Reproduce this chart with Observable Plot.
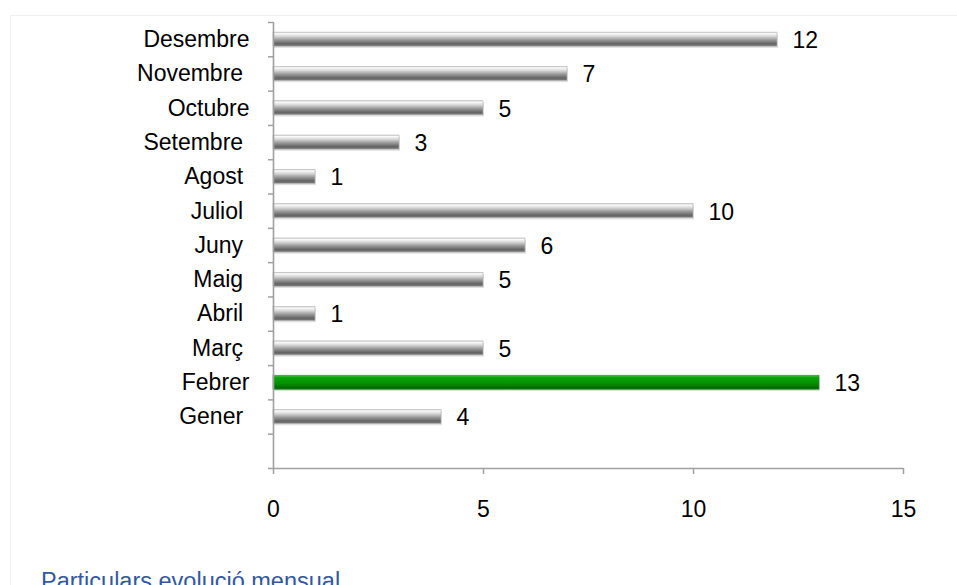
<!DOCTYPE html>
<html>
<head>
<meta charset="utf-8">
<script src="https://cdn.jsdelivr.net/npm/d3@7"></script>
<script src="https://cdn.jsdelivr.net/npm/@observablehq/plot@0.6"></script>
<style>
  html, body { margin: 0; padding: 0; background: #fff; overflow: hidden; }
  #wrap { position: relative; width: 957px; height: 585px; overflow: hidden; }
  #frame { position: absolute; left: 10px; top: 15px; right: -5px; bottom: -5px;
           border-left: 1px solid #efefef; border-top: 1px solid #efefef; pointer-events: none; }
  #cap { position: absolute; left: 41px; top: 568px; font-family: "Liberation Sans", Arial, sans-serif;
         font-size: 23.5px; line-height: 1.15; color: #3458a0; white-space: nowrap; }
</style>
</head>
<body>
<div id="wrap">
  <div id="frame"></div>
  <div id="chart"></div>
  <div id="cap">Particulars evolució mensual</div>
</div>
<script>
// Data (bottom to top)
const months = ["Gener\u00a0", "Febrer", "Març\u00a0", "Abril\u00a0", "Maig\u00a0", "Juny\u00a0",
                "Juliol\u00a0", "Agost\u00a0", "Setembre\u00a0", "Octubre", "Novembre\u00a0", "Desembre"];
const values = [4, 13, 5, 1, 5, 6, 10, 1, 3, 5, 7, 12];
const highlight = ["Febrer"];
const xTicks = [0, 5, 10, 15];

const data = months.map((m, i) => ({month: m, value: values[i], pos: i + 1.5, hi: highlight.includes(m)}));
const half = 0.205;

const defs = () => {
  const ns = "http://www.w3.org/2000/svg";
  const d = document.createElementNS(ns, "defs");
  d.innerHTML = `
    <linearGradient id="gGray" x1="0" y1="0" x2="0" y2="1">
      <stop offset="0" stop-color="#cfcfcf"/>
      <stop offset="0.1" stop-color="#fafafa"/>
      <stop offset="0.3" stop-color="#d6d6d6"/>
      <stop offset="0.55" stop-color="#9a9a9a"/>
      <stop offset="0.82" stop-color="#646464"/>
      <stop offset="1" stop-color="#7e7e7e"/>
    </linearGradient>
    <linearGradient id="gGreen" x1="0" y1="0" x2="0" y2="1">
      <stop offset="0" stop-color="#5cc25c"/>
      <stop offset="0.15" stop-color="#0ca60c"/>
      <stop offset="0.6" stop-color="#009000"/>
      <stop offset="0.9" stop-color="#006800"/>
      <stop offset="1" stop-color="#1a7a1a"/>
    </linearGradient>
    <filter id="blur" x="-5%" y="-50%" width="110%" height="200%"><feGaussianBlur stdDeviation="1.5"/></filter>`;
  return d;
};

const chart = Plot.plot({
  width: 957,
  height: 568,
  marginLeft: 273,
  marginRight: 54,
  marginTop: 22,
  marginBottom: 100,
  style: {fontFamily: "'Liberation Sans', Arial, sans-serif", fontSize: "23px", color: "#000", background: "transparent"},
  x: {domain: [0, 15], axis: null, label: null},
  y: {domain: [0, 13], axis: null, label: null},
  marks: [
    defs,
    // shadow
    Plot.rectX(data, {x1: 0, x2: "value", y1: d => d.pos - half - 0.05, y2: d => d.pos + half - 0.05,
      fill: "#000", fillOpacity: 0.12, dx: 1, style: {filter: "url(#blur)"}}),
    Plot.rectX(data, {x1: 0, x2: "value", y1: d => d.pos - half, y2: d => d.pos + half,
      fill: d => d.hi ? "url(#gGreen)" : "url(#gGray)"}),
    Plot.rectX(data, {x1: 0, x2: "value", y1: d => d.pos - half, y2: d => d.pos + half,
      fill: "none", stroke: d => d.hi ? "#2a8a2a" : "#b5b5b5", strokeWidth: 0.6}),
    Plot.text(data, {x: "value", y: "pos", text: d => String(d.value), textAnchor: "start", dx: 15, dy: 1,
      fill: "#000", fontSize: 23}),
    // axes lines
    Plot.ruleX([0], {stroke: "#a0a0a0", strokeWidth: 1.6}),
    Plot.ruleY([0], {stroke: "#a0a0a0", strokeWidth: 1.6}),
    // y boundary ticks
    Plot.axisY({ticks: d3.range(0, 14), tickSize: 5, tickFormat: () => "", label: null,
      stroke: "#a0a0a0", strokeWidth: 1.5}),
    // y category labels
    Plot.axisY({ticks: data.map(d => d.pos), tickSize: 0, tickPadding: 24, label: null,
      tickFormat: v => months[Math.round(v - 1.5)], fill: "#000", fontSize: 23}),
    // x axis
    Plot.axisX({ticks: xTicks, tickSize: 6, tickPadding: 26, label: null, stroke: "#a0a0a0", strokeWidth: 1.5,
      fill: "#000", fontSize: 23})
  ]
});
chart.style.position = "absolute";
chart.style.left = "0px";
chart.style.top = "0px";
document.getElementById("chart").appendChild(chart);
</script>
</body>
</html>
